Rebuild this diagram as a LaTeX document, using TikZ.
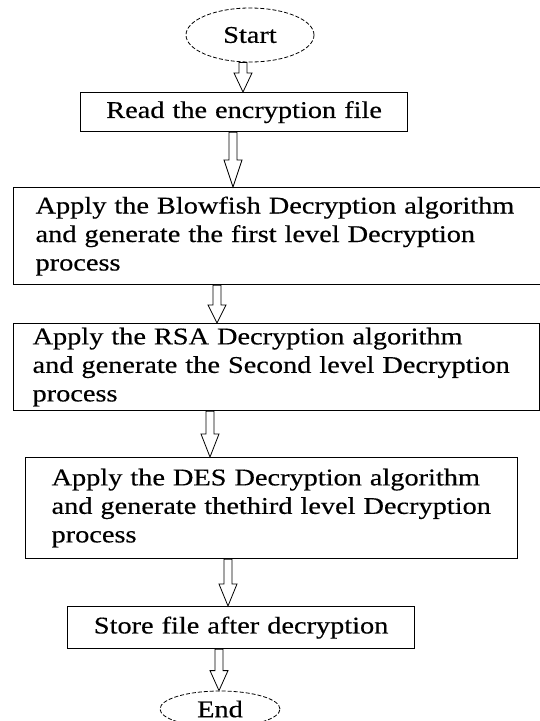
\documentclass[tikz,border=0pt]{standalone}
\usepackage{fontspec}
\setmainfont{Liberation Serif}[FakeStretch=1.18, FakeBold=0.4]
\usetikzlibrary{calc,shapes.geometric}

\tikzset{
  x=1pt, y=-1pt,
  harrow/.store in=\harrowlen, harrow=20,
  % hollow block arrow pointing down from start to target
  blockarrow/.style={draw, fill=white, line width=0.8pt, line join=miter, harrow=#1,
    to path={let \p1=(\tikztostart), \p2=(\tikztotarget) in
      (\x1-4pt,\y1) -- (\x1-4pt,\y2+\harrowlen pt) -- (\x1-9pt,\y2+\harrowlen pt)
      -- (\x1,\y2) -- (\x1+9pt,\y2+\harrowlen pt) -- (\x1+4pt,\y2+\harrowlen pt)
      -- (\x1+4pt,\y1) -- cycle}},
  stepbox/.style={draw, line width=1.2pt, rectangle, anchor=north west,
    align=left, inner ysep=0pt, font=\fontsize{24}{28.5}\selectfont},
  terminal/.style={draw, ellipse, dash pattern=on 4pt off 2pt, line width=0.8pt,
    inner sep=0pt, font=\fontsize{24}{28.5}\selectfont},
}

\begin{document}
\begin{tikzpicture}
  \useasboundingbox (0,0) rectangle (540,721);
  \fill[white] (0,0) rectangle (540,721);

  % terminals and process boxes
  \node[terminal, minimum width=128, minimum height=54] (start) at (250,35) {Start};
  \node[stepbox, align=center, minimum width=327, minimum height=39, inner xsep=0pt,
        text width=327] (read) at (80,92) {Read the encryption file};
  \node[stepbox, minimum width=547, minimum height=97, inner xsep=22pt, text width=503]
        (blow) at (13,187) {\mbox{Apply the Blowfish Decryption algorithm}\\
        \mbox{and generate the first level Decryption}\\process};
  \node[stepbox, minimum width=526, minimum height=87, inner xsep=19pt, text width=488]
        (rsa) at (13,323) {\mbox{Apply the RSA Decryption algorithm}\\
        \mbox{and generate the Second level Decryption}\\process};
  \node[stepbox, minimum width=492, minimum height=101, inner xsep=26pt, text width=440]
        (des) at (25,457) {\mbox{Apply the DES Decryption algorithm}\\
        \mbox{and generate thethird level Decryption}\\process};
  \node[stepbox, align=center, minimum width=347, minimum height=42, inner xsep=0pt,
        text width=347] (store) at (67,606) {Store file after decryption};
  \node[terminal, minimum width=120, minimum height=36] (end) at (220,709) {End};

  % x positions of the flow arrows
  \coordinate (c1) at (243,0);
  \coordinate (c2) at (233,0);
  \coordinate (c3) at (217,0);
  \coordinate (c4) at (210,0);
  \coordinate (c5) at (228,0);
  \coordinate (c6) at (219,0);

  \draw[blockarrow=19] (c1 |- start.south) to (c1 |- read.north);
  \draw[blockarrow=27] (c2 |- read.south) to (c2 |- blow.north);
  \draw[blockarrow=18] (c3 |- blow.south) to (c3 |- rsa.north);
  \draw[blockarrow=23] (c4 |- rsa.south) to (c4 |- des.north);
  \draw[blockarrow=22] (c5 |- des.south) to (c5 |- store.north);
  \draw[blockarrow=20] (c6 |- store.south) to (c6 |- end.north);
\end{tikzpicture}
\end{document}
